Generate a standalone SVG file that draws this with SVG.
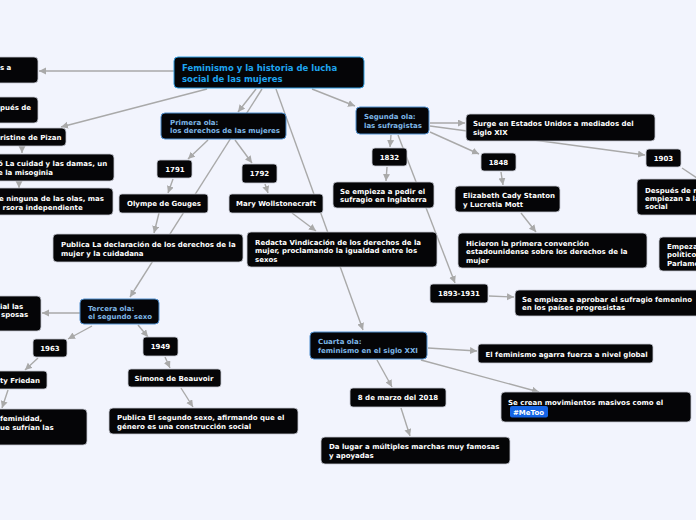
<svg xmlns="http://www.w3.org/2000/svg" width="696" height="520" viewBox="0 0 696 520">
<defs>
<marker id="ah" markerUnits="userSpaceOnUse" markerWidth="8" markerHeight="8" refX="7" refY="3.5" orient="auto"><path d="M0,0 L7,3.5 L0,7 z" fill="#a9a9a9"/></marker>
<style>
.bg{fill:#f2f4fd}
.n rect{fill:#050507;stroke:#c5c8d2;stroke-width:0.8}
.w rect{stroke:#4f8fcf;stroke-width:1}
.m rect{stroke:#2f9de0;stroke-width:1}
text{font-family:"DejaVu Sans",Verdana,sans-serif;font-weight:bold;font-size:7px;fill:#ffffff}
.c{text-anchor:middle}
.w text{fill:#7db6e6}
.m text{fill:#1ea4ef;font-size:8.5px}
#connectors path{fill:none;stroke:#a9a9a9;stroke-width:1.4}
#connectors .a{marker-end:url(#ah)}
</style>
</defs>
<rect class="bg" x="0" y="0" width="696" height="520"/>
<g id="connectors">
<path class="a" d="M174,71 L39,71"/>
<path class="a" d="M207,89 L61,127"/>
<path class="a" d="M22,146 L22,153"/>
<path class="a" d="M19,181 L19,188"/>
<path class="a" d="M256,89 L238,112"/>
<path class="a" d="M262,89 L130,297"/>
<path class="a" d="M276,89 L363,330"/>
<path class="a" d="M312,89 L355,106"/>
<path class="a" d="M208,140 L188,159"/>
<path class="a" d="M235,140 L252,163"/>
<path class="a" d="M173,179 L168,193"/>
<path class="a" d="M265,184 L268,193"/>
<path class="a" d="M159,213 L154,233"/>
<path class="a" d="M292,213 L316,231"/>
<path class="a" d="M430,123 L465,123"/>
<path class="a" d="M430,126 L645,155"/>
<path class="a" d="M430,132 L479,154"/>
<path class="a" d="M391,135 L390,147"/>
<path class="a" d="M387,167 L386,181"/>
<path class="a" d="M398,135 L455,283"/>
<path class="a" d="M501,172 L503,185"/>
<path class="a" d="M521,213 L536,232"/>
<path d="M682,168 L700,180"/>
<path class="a" d="M489,296 L514,297"/>
<path class="a" d="M80,313 L42,313"/>
<path class="a" d="M92,326 L68,339"/>
<path class="a" d="M38,358 L25,370"/>
<path class="a" d="M8,390 L2,408"/>
<path class="a" d="M138,325 L148,337"/>
<path class="a" d="M165,357 L170,368"/>
<path class="a" d="M181,388 L193,407"/>
<path class="a" d="M428,348 L477,351"/>
<path class="a" d="M421,360 L539,392"/>
<path class="a" d="M377,360 L392,387"/>
<path class="a" d="M401,408 L410,436"/>
</g>
<g id="n-main" class="n m"><rect x="174" y="57" width="190" height="31" rx="4"/><text x="182" y="71">Feminismo y la historia de lucha</text><text x="182" y="81.5">social de las mujeres</text></g>
<g id="n-l1" class="n"><rect x="-10" y="57" width="48" height="26" rx="4"/><text x="0" y="69.5">s a</text></g>
<g id="n-l2" class="n"><rect x="-10" y="97" width="48" height="26" rx="4"/><text x="0" y="109.5">pués de</text></g>
<g id="n-l3" class="n"><rect x="-10" y="128" width="76" height="18" rx="4"/><text x="0" y="140">ristine de Pizan</text></g>
<g id="n-l4" class="n"><rect x="-10" y="154" width="124" height="27" rx="4"/><text x="-2" y="166">ó La cuidad y las damas, un</text><text x="-2" y="175">e la misoginia</text></g>
<g id="n-l5" class="n"><rect x="-10" y="188" width="123" height="27" rx="4"/><text x="-1" y="201">e ninguna de las olas, mas</text><text x="2.5" y="209.5">rsora independiente</text></g>
<g id="n-primera" class="n w"><rect x="161" y="113" width="125" height="26" rx="4"/><text x="170" y="124.5">Primera ola:</text><text x="170" y="132.5">los derechos de las mujeres</text></g>
<g id="n-1791" class="n"><rect x="157" y="160" width="35" height="18" rx="3"/><text class="c" x="175" y="171.5">1791</text></g>
<g id="n-1792" class="n"><rect x="242" y="164" width="35" height="19" rx="3"/><text class="c" x="259.5" y="176">1792</text></g>
<g id="n-olympe" class="n"><rect x="119" y="194" width="89" height="19" rx="3"/><text class="c" x="164" y="206">Olympe de Gouges</text></g>
<g id="n-mary" class="n"><rect x="229" y="194" width="94" height="19" rx="3"/><text class="c" x="276" y="206">Mary Wollstonecraft</text></g>
<g id="n-declaracion" class="n"><rect x="53" y="234" width="190" height="28" rx="4"/><text x="61" y="246.5">Publica La declaración de los derechos de la</text><text x="61" y="255.5">mujer y la cuidadana</text></g>
<g id="n-vindicacion" class="n"><rect x="247" y="232" width="190" height="35" rx="4"/><text x="255" y="244.5">Redacta Vindicación de los derechos de la</text><text x="255" y="253">mujer, proclamando la igualdad entre los</text><text x="255" y="261.5">sexos</text></g>
<g id="n-segunda" class="n w"><rect x="356" y="107" width="73" height="27" rx="4"/><text x="364" y="119">Segunda ola:</text><text x="364" y="127.5">las sufragistas</text></g>
<g id="n-surge" class="n"><rect x="466" y="114" width="189" height="27" rx="4"/><text x="473" y="126">Surge en Estados Unidos a mediados del</text><text x="473" y="134.5">siglo XIX</text></g>
<g id="n-1832" class="n"><rect x="372" y="148" width="35" height="18" rx="3"/><text class="c" x="389.5" y="159.5">1832</text></g>
<g id="n-pedir" class="n"><rect x="333" y="182" width="101" height="26" rx="4"/><text x="340" y="193.5">Se empieza a pedir el</text><text x="340" y="202">sufragio en Inglaterra</text></g>
<g id="n-1848" class="n"><rect x="481" y="153" width="35" height="18" rx="3"/><text class="c" x="498.5" y="164.5">1848</text></g>
<g id="n-elizabeth" class="n"><rect x="455" y="186" width="105" height="26" rx="4"/><text x="463" y="198.3">Elizabeth Cady Stanton</text><text x="463" y="206.5">y Lucretia Mott</text></g>
<g id="n-convencion" class="n"><rect x="458" y="233" width="189" height="35" rx="4"/><text x="466" y="246">Hicieron la primera convención</text><text x="466" y="254.3">estadounidense sobre los derechos de la</text><text x="466" y="262.5">mujer</text></g>
<g id="n-1903" class="n"><rect x="646" y="149" width="35" height="18" rx="3"/><text class="c" x="663.5" y="160.5">1903</text></g>
<g id="n-despues" class="n"><rect x="637" y="179" width="80" height="36" rx="4"/><text x="645" y="192.5">Después de r</text><text x="645" y="201">empiezan a la</text><text x="645" y="209.3">social</text></g>
<g id="n-empeza" class="n"><rect x="659" y="237" width="60" height="34" rx="4"/><text x="667" y="248.5">Empeza</text><text x="667" y="257">políticos</text><text x="667" y="265.5">Parlame</text></g>
<g id="n-1893" class="n"><rect x="430" y="284" width="58" height="19" rx="3"/><text class="c" x="459" y="296">1893-1931</text></g>
<g id="n-aprobar" class="n"><rect x="515" y="290" width="190" height="26" rx="4"/><text x="522" y="302">Se empieza a aprobar el sufragio femenino</text><text x="522" y="310.3">en los países progresistas</text></g>
<g id="n-tercera" class="n w"><rect x="80" y="299" width="79" height="25" rx="4"/><text x="88" y="311">Tercera ola:</text><text x="88" y="319">el segundo sexo</text></g>
<g id="n-l6" class="n"><rect x="-10" y="296" width="51" height="35" rx="4"/><text x="0" y="308.5">ial las</text><text x="1" y="317">sposas</text></g>
<g id="n-1963" class="n"><rect x="33" y="339" width="34" height="18" rx="3"/><text class="c" x="50" y="350.5">1963</text></g>
<g id="n-friedan" class="n"><rect x="-10" y="371" width="57" height="18" rx="3"/><text x="0" y="383">ty Friedan</text></g>
<g id="n-l8" class="n"><rect x="-10" y="409" width="97" height="36" rx="4"/><text x="0" y="421">feminidad,</text><text x="0" y="429.5">ue sufrían las</text></g>
<g id="n-1949" class="n"><rect x="143" y="337" width="35" height="19" rx="3"/><text class="c" x="160.5" y="349">1949</text></g>
<g id="n-simone" class="n"><rect x="128" y="369" width="93" height="18" rx="3"/><text class="c" x="174" y="380.5">Simone de Beauvoir</text></g>
<g id="n-segundosexo" class="n"><rect x="109" y="408" width="189" height="26" rx="4"/><text x="117" y="420">Publica El segundo sexo, afirmando que el</text><text x="117" y="428.5">género es una construcción social</text></g>
<g id="n-cuarta" class="n w"><rect x="310" y="332" width="117" height="27" rx="4"/><text x="318" y="344">Cuarta ola:</text><text x="318" y="353">feminismo en el siglo XXI</text></g>
<g id="n-global" class="n"><rect x="478" y="344" width="175" height="19" rx="3"/><text x="485.5" y="357">El feminismo agarra fuerza a nivel global</text></g>
<g id="n-metoo" class="n"><rect x="501" y="392" width="190" height="30" rx="4"/><text x="508" y="405">Se crean movimientos masivos como el</text><rect x="510" y="406" width="38" height="11.5" rx="2" style="fill:#1565e6;stroke:none"/><text x="513" y="414.5">#MeToo</text></g>
<g id="n-marzo" class="n"><rect x="350" y="388" width="96" height="19" rx="3"/><text class="c" x="398" y="400">8 de marzo del 2018</text></g>
<g id="n-marchas" class="n"><rect x="321" y="437" width="189" height="27" rx="4"/><text x="329" y="449">Da lugar a múltiples marchas muy famosas</text><text x="329" y="458">y apoyadas</text></g>
</svg>
